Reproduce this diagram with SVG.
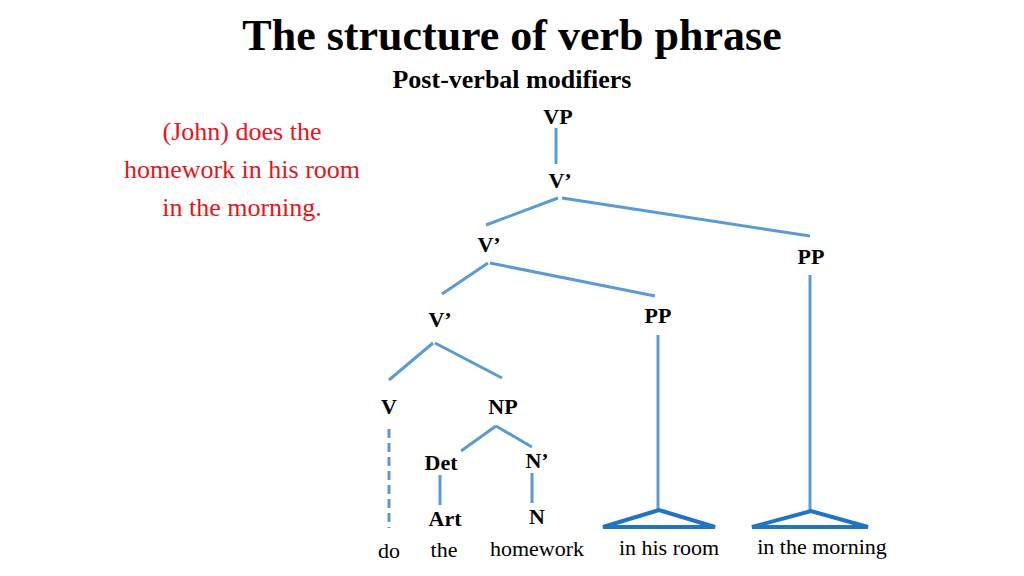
<svg xmlns="http://www.w3.org/2000/svg" width="1024" height="576" viewBox="0 0 1024 576">
<style>
text{font-family:"Liberation Serif",serif;fill:#000}
.b{font-weight:bold;font-size:22px;text-anchor:middle}
.w{font-size:22px;text-anchor:middle}
.r{font-size:26px;fill:#e8141b;text-anchor:middle}
.l{stroke:#5b9bd5;stroke-width:3;fill:none}
.t{stroke:#1f74c4;stroke-width:4;fill:none;stroke-linejoin:miter}
</style>
<rect width="1024" height="576" fill="#fff"/>
<text x="512" y="50" style="font-size:44px;font-weight:bold;text-anchor:middle">The structure of verb phrase</text>
<text x="512" y="88" style="font-size:26px;font-weight:bold;text-anchor:middle">Post-verbal modifiers</text>
<g id="sentence">
<text class="r" x="242" y="140">(John) does the</text>
<text class="r" x="242" y="178">homework in his room</text>
<text class="r" x="242" y="216">in the morning.</text>
</g>
<g id="VP"><text class="b" x="558" y="124">VP</text></g>
<g id="V1"><text class="b" x="560" y="188">V’</text></g>
<g id="V2"><text class="b" x="489" y="252">V’</text></g>
<g id="PP2"><text class="b" x="811" y="264">PP</text></g>
<g id="V3"><text class="b" x="440" y="327">V’</text></g>
<g id="PP1"><text class="b" x="658" y="323">PP</text></g>
<g id="V"><text class="b" x="389" y="414">V</text></g>
<g id="NP"><text class="b" x="503" y="414">NP</text></g>
<g id="Det"><text class="b" x="441" y="470">Det</text></g>
<g id="Nb"><text class="b" x="537" y="468">N’</text></g>
<g id="Art"><text class="b" x="445" y="526">Art</text></g>
<g id="N"><text class="b" x="537" y="524">N</text></g>
<g id="words">
<text class="w" x="389" y="558">do</text>
<text class="w" x="444" y="557">the</text>
<text class="w" x="537" y="556">homework</text>
<text class="w" x="669" y="555">in his room</text>
<text class="w" x="822" y="554">in the morning</text>
</g>
<g id="connectors">
<line class="l" x1="556" y1="128" x2="556" y2="164"/>
<line class="l" x1="558" y1="198" x2="486" y2="225"/>
<line class="l" x1="562" y1="198" x2="810" y2="236"/>
<line class="l" x1="488" y1="263" x2="442" y2="294"/>
<line class="l" x1="490" y1="263" x2="655" y2="296"/>
<line class="l" x1="433" y1="343" x2="389" y2="380"/>
<line class="l" x1="435" y1="343" x2="502" y2="378"/>
<line class="l" x1="389" y1="429" x2="389" y2="528" stroke-dasharray="9,5"/>
<line class="l" x1="496" y1="426" x2="461" y2="451"/>
<line class="l" x1="496" y1="426" x2="532" y2="447"/>
<line class="l" x1="440" y1="475" x2="440" y2="505"/>
<line class="l" x1="532" y1="473" x2="532" y2="503"/>
<line class="l" x1="658" y1="335" x2="658" y2="511"/>
<line class="l" x1="810" y1="275" x2="810" y2="512"/>
<polygon class="t" points="603,527 659,510 715,527"/>
<polygon class="t" points="752,527 811,511 868,527"/>
</g>
</svg>
